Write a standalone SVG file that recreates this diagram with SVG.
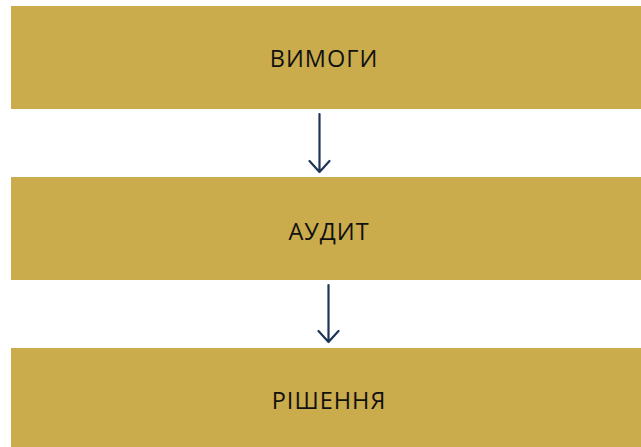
<svg xmlns="http://www.w3.org/2000/svg" width="641" height="447" viewBox="0 0 641 447">
  <style>
    .box { fill: #CBAC4C; }
    .label { font-family: "Open Sans", "DejaVu Sans", sans-serif; font-size: 23.5px; letter-spacing: 1px; fill: #111111; text-anchor: middle; dominant-baseline: central; }
    .link { stroke: #1E3557; stroke-width: 2.2; fill: none; stroke-linecap: round; stroke-linejoin: round; }
  </style>
  <rect width="641" height="447" fill="#FFFFFF"/>
  <g id="node-vymohy">
    <rect class="box" x="11" y="6" width="640" height="103"/>
    <text class="label" x="324" y="58">ВИМОГИ</text>
  </g>
  <g id="node-audyt">
    <rect class="box" x="11" y="177" width="640" height="103"/>
    <text class="label" x="329" y="231">АУДИТ</text>
  </g>
  <g id="node-rishennia">
    <rect class="box" x="11" y="348" width="640" height="103"/>
    <text class="label" x="329" y="400">РІШЕННЯ</text>
  </g>
  <g id="connectors">
    <path class="link" d="M319.5 114 V172 M309.5 161 L319.5 172 L329.5 161"/>
    <path class="link" d="M328.5 285 V342 M318.5 331 L328.5 342 L338.5 331"/>
  </g>
</svg>
